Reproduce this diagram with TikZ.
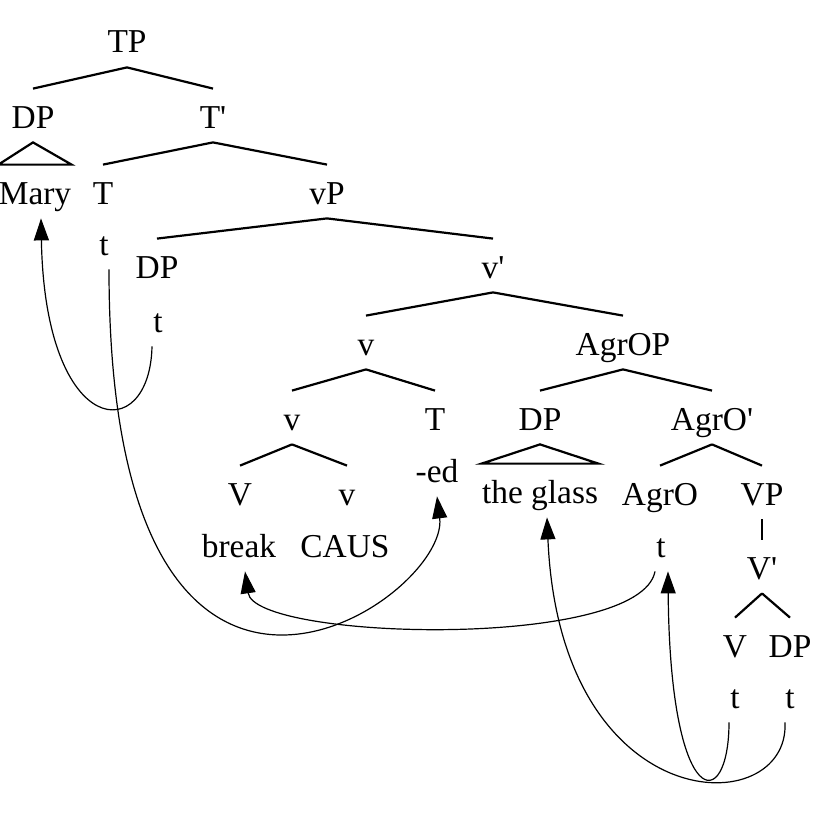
\documentclass[tikz,border=0pt]{standalone}
\usepackage{fontspec}
\setmainfont{Liberation Serif}
\usetikzlibrary{arrows.meta}

\tikzset{
  lbl/.style={anchor=base, inner xsep=0pt, inner ysep=7pt, text height=12.5pt,
    text depth=0pt, font=\fontsize{16.7}{20}\selectfont},
  branch/.style={line width=1.1pt},
  move/.style={line width=0.6pt, -{Triangle[length=11pt,width=7.5pt]}},
}

\begin{document}
\begin{tikzpicture}[x=0.5pt, y=-0.5pt]
    \useasboundingbox (0,0) rectangle (820,840);
    % Labels of the tree
    \foreach \n/\x/\y/\txt in {tp/127/53/TP, dpa/33/128/DP, tbar/213/128/T\textquotesingle,
        mary/35/204/Mary, tt/103/204/T, vp/327/204/vP, ttr/104/255/t,
        dpb/157/278/DP, vbar/493/278/v\textquotesingle, tdp/158/332/t,
        vc/366/355/v, agrop/623/355/AgrOP, vl/292/430/v, tl/435/430/T,
        dpc/540/430/DP, agrobar/712/430/AgrO\textquotesingle, ed/437/482/-ed,
        vv/240/505/V, vs/347/505/v, glass/540/503/the glass, agro/660/505/AgrO,
        vpl/762/505/VP, break/239/557/break, caus/345/557/CAUS, tagro/661/557/t,
        vbarl/762/579/V\textquotesingle, vvl/735/657/V, dpd/790/657/DP,
        tv/735/708/t, tdpl/790/708/t} {
      \node[lbl] (\n) at (\x,\y) {\txt};
    }
    % Branches
    \foreach \p/\c in {tp/dpa, tp/tbar, tbar/tt, tbar/vp, vp/dpb, vp/vbar,
        vbar/vc, vbar/agrop, vc/vl, vc/tl, agrop/dpc, agrop/agrobar,
        vl/vv, vl/vs, agrobar/agro, agrobar/vpl, vpl/vbarl, vbarl/vvl, vbarl/dpd} {
      \draw[branch] (\p.south) -- (\c.north);
    }
    % Triangles
    \draw[branch] (dpa.south) -- (mary.north west) -- (mary.north east) -- cycle;
    \draw[branch] (dpc.south) -- (glass.north west) -- (glass.north east) -- cycle;
    % Movement arrows
    \draw[move] ([xshift=-3pt]tdp.south) .. controls +(-2,100) and +(4,222) .. ([xshift=3pt]mary.south);
    \draw[move] ([xshift=2.5pt]ttr.south) .. controls +(0,561) and +(13,104) .. (ed.south);
    \draw[move] ([xshift=-3pt]tagro.south) .. controls +(-15,79) and +(10,69) .. ([xshift=3pt]break.south);
    \draw[move] ([xshift=-3pt]tv.south) .. controls +(0,92) and +(2,243) .. ([xshift=3.5pt]tagro.south);
    \draw[move] ([xshift=-2.5pt]tdpl.south) .. controls +(5,100) and +(13,304) .. ([xshift=3.5pt]glass.south);
\end{tikzpicture}
\end{document}
